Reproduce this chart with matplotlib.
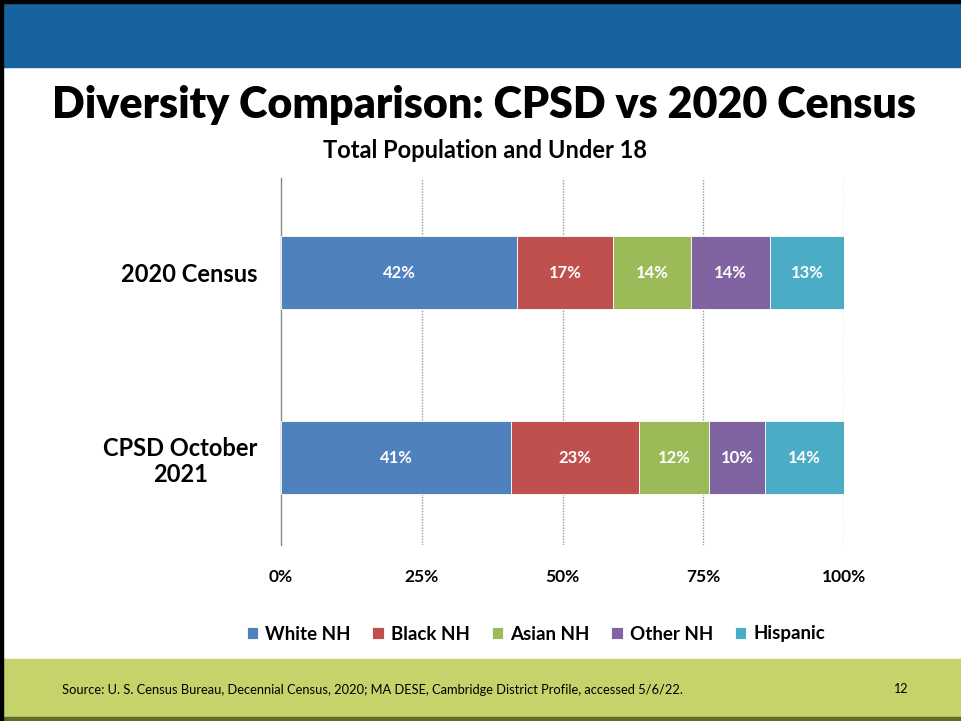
import matplotlib
matplotlib.use("Agg")
import matplotlib.pyplot as plt
from matplotlib.patches import Rectangle
import numpy as np

plt.rcParams['font.family'] = ['Lato', 'DejaVu Sans']

categories = ["CPSD October\n2021", "2020 Census"]
series = ["White NH", "Black NH", "Asian NH", "Other NH", "Hispanic"]
values = {
    "White NH": [40.9, 41.9],
    "Black NH": [22.7, 17.1],
    "Asian NH": [12.4, 13.8],
    "Other NH": [10.0, 14.1],
    "Hispanic": [14.0, 13.1],
}
labels = {
    "White NH": ["41%", "42%"],
    "Black NH": ["23%", "17%"],
    "Asian NH": ["12%", "14%"],
    "Other NH": ["10%", "14%"],
    "Hispanic": ["14%", "13%"],
}
colors = ["#4F81BD", "#C0504D", "#9BBB59", "#8064A2", "#4BACC6"]
xticks = [0, 25, 50, 75, 100]
xticklabels = ["0%", "25%", "50%", "75%", "100%"]

W, H = 961, 721
fig = plt.figure(figsize=(W / 100, H / 100), dpi=100)

# background bands
bg = fig.add_axes([0, 0, 1, 1])
bg.set_xlim(0, W)
bg.set_ylim(H, 0)
bg.axis("off")
bg.add_patch(Rectangle((0, 0), W, 67, color="#17639E", zorder=0))
bg.add_patch(Rectangle((0, 659), W, 62, color="#C6D36A", zorder=0))
bg.add_patch(Rectangle((0, 717), W, 4, color="#5C6B2C", zorder=1))
bg.add_patch(Rectangle((0, 0), W, 3, color="black", zorder=2))
bg.add_patch(Rectangle((0, 0), 3, H, color="black", zorder=2))

bg.text(484, 105, "Diversity Comparison: CPSD vs 2020 Census", ha="center", va="center",
        fontsize=31, fontweight="heavy", color="black")
bg.text(485, 150, "Total Population and Under 18", ha="center", va="center",
        fontsize=17, fontweight="bold", color="black")
bg.text(62, 690, "Source: U. S. Census Bureau, Decennial Census, 2020; MA DESE, Cambridge District Profile, accessed 5/6/22.",
        ha="left", va="center", fontsize=9.3, color="black")
bg.text(901, 689, "12", ha="center", va="center", fontsize=9, color="black")

# chart axes
x0, x1 = 281, 844
ytop, ybot = 178, 545
ax = fig.add_axes([x0 / W, 1 - ybot / H, (x1 - x0) / W, (ybot - ytop) / H])
ax.patch.set_alpha(0)
ypos = np.arange(len(categories))
left = np.zeros(len(categories))
for s, c in zip(series, colors):
    v = np.array(values[s])
    bars = ax.barh(ypos, v, left=left, height=0.395, color=c, edgecolor="white",
                   linewidth=0.6, label=s, zorder=3)
    for i, b in enumerate(bars):
        ax.text(left[i] + v[i] / 2, ypos[i], labels[s][i], ha="center", va="center",
                color="white", fontsize=12, fontweight="bold", zorder=4)
    left += v

ax.set_xlim(0, 100)
ax.set_ylim(-0.473, 1.511)
ax.set_xticks(xticks)
ax.set_xticklabels(xticklabels, fontsize=12.5, fontweight="bold")
ax.set_yticks(ypos)
ax.set_yticklabels(categories, fontsize=17, fontweight="bold", ha="right")
ax.tick_params(axis="y", length=0, pad=17)
ax.tick_params(axis="x", length=0, pad=17)
for t in ax.get_yticklabels():
    t.set_multialignment("center")
for sp in ["top", "right", "bottom"]:
    ax.spines[sp].set_visible(False)
ax.spines["left"].set_color("#888888")
ax.spines["left"].set_linewidth(1.0)
for xv in xticks[1:]:
    ax.axvline(xv, color="#999999", linestyle=(0, (1, 1)), linewidth=1.0, zorder=1)

handles, lbls = ax.get_legend_handles_labels()
leg = fig.legend(handles, lbls, loc="center", bbox_to_anchor=(536 / W, 1 - 634 / H),
                 ncol=5, frameon=False, prop={"weight": "bold", "size": 13.5},
                 handlelength=0.6, handleheight=0.6, handletextpad=0.4, columnspacing=1.15)

fig.savefig("out.png", dpi=100)
